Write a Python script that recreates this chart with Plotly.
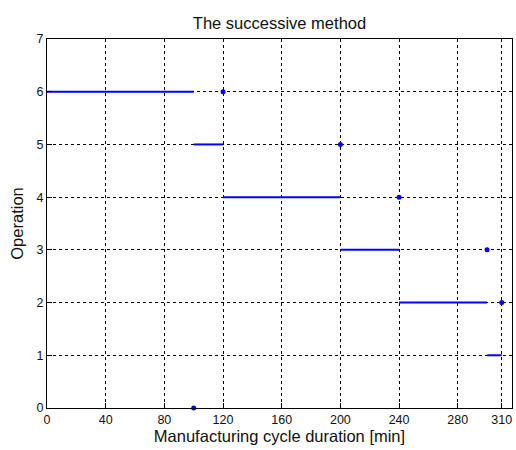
import plotly.graph_objects as go

operations = [6, 5, 4, 3, 2, 1]
starts = [0, 100, 120, 200, 240, 300]
ends = [100, 120, 200, 240, 300, 310]
dot_x = [120, 200, 240, 300, 310, 100]
dot_y = [6, 5, 4, 3, 2, 0]
x_ticks = [0, 40, 80, 120, 160, 200, 240, 280, 310]
y_ticks = [0, 1, 2, 3, 4, 5, 6, 7]

lx, ly = [], []
for op, s, e in zip(operations, starts, ends):
    lx += [s, e, None]
    ly += [op, op, None]

fig = go.Figure()
fig.add_trace(go.Scatter(x=lx, y=ly, mode="lines", line=dict(color="#0000FF", width=2),
                         showlegend=False, hoverinfo="skip"))
fig.add_trace(go.Scatter(x=dot_x, y=dot_y, mode="markers", marker=dict(color="#0000FF", size=5),
                         showlegend=False, cliponaxis=False))

font = "Liberation Sans, Arial, sans-serif"
axis_common = dict(showline=True, linecolor="black", linewidth=1, mirror=True,
                   ticks="inside", ticklen=5, tickcolor="black",
                   showgrid=True, gridcolor="black", gridwidth=1, griddash="3px,3px",
                   zeroline=False, tickfont=dict(family=font, size=12.5, color="#111111"))

fig.update_layout(
    width=516, height=450,
    margin=dict(l=47, r=4, t=39, b=42),
    paper_bgcolor="white", plot_bgcolor="white",
    title=dict(text="The successive method", xref="paper", x=0.5, xanchor="center",
               y=1 - 23 / 450, yanchor="middle",
               font=dict(family=font, size=16.5, color="#111111")),
    xaxis=dict(range=[0, 317], tickvals=x_ticks, ticktext=[str(t) for t in x_ticks],
               title=dict(text="Manufacturing cycle duration [min]", standoff=4,
                          font=dict(family=font, size=16.5, color="#111111")), **axis_common),
    yaxis=dict(range=[0, 7], tickvals=y_ticks,
               title=dict(text="Operation", standoff=8,
                          font=dict(family=font, size=16.5, color="#111111")), **axis_common),
)

fig.write_html("out.html")
